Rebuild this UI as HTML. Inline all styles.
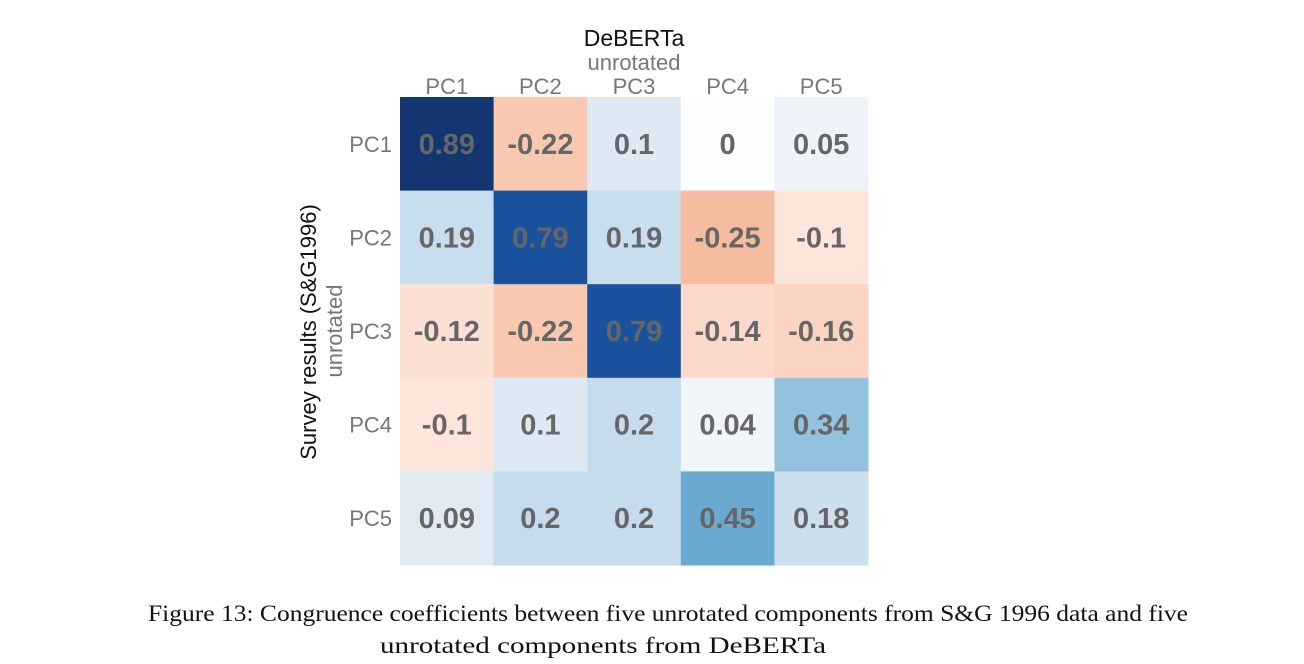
<!DOCTYPE html>
<html><head><meta charset="utf-8"><style>
body{margin:0;background:#fff;width:1304px;height:659px;overflow:hidden}
svg text{font-family:"Liberation Sans",sans-serif}
</style></head><body>
<svg width="1304" height="659">
<g id="cells"></g>
<text x="634" y="46" text-anchor="middle" font-size="23" fill="#111">DeBERTa</text>
<text x="634" y="70" text-anchor="middle" font-size="22" fill="#777">unrotated</text>
<text transform="translate(316,332) rotate(-90)" text-anchor="middle" font-size="22" fill="#111">Survey results (S&amp;G1996)</text>
<text transform="translate(342,331) rotate(-90)" text-anchor="middle" font-size="22" fill="#777">unrotated</text>
<text x="148" y="621" font-size="23" textLength="1040" lengthAdjust="spacingAndGlyphs" fill="#111" style="font-family:'Liberation Serif',serif">Figure 13: Congruence coefficients between five unrotated components from S&amp;G 1996 data and five</text>
<text x="380" y="653" font-size="23" textLength="446" lengthAdjust="spacingAndGlyphs" fill="#111" style="font-family:'Liberation Serif',serif">unrotated components from DeBERTa</text>
</svg>
<script>
const colLabels=["PC1","PC2","PC3","PC4","PC5"];
const rowLabels=["PC1","PC2","PC3","PC4","PC5"];
const values=[
[0.89,-0.22,0.1,0,0.05],
[0.19,0.79,0.19,-0.25,-0.1],
[-0.12,-0.22,0.79,-0.14,-0.16],
[-0.1,0.1,0.2,0.04,0.34],
[0.09,0.2,0.2,0.45,0.18]];
const NS="http://www.w3.org/2000/svg";
const x0=400,y0=97,cw=93.6,ch=93.6;
const g=document.getElementById('cells');
const svg=g.parentNode;
function lerp(a,b,t){return a.map((v,i)=>Math.round(v+(b[i]-v)*t));}
function color(v){
 const pos=[[0,[253,254,254]],[0.05,[237,243,248]],[0.1,[221,233,243]],[0.2,[198,220,236]],[0.34,[147,194,223]],[0.45,[106,170,208]],[0.79,[26,82,158]],[0.89,[19,54,114]],[1,[8,40,100]]];
 const neg=[[0,[253,254,254]],[0.1,[252,230,220]],[0.16,[250,211,194]],[0.22,[248,201,176]],[0.25,[246,188,159]],[1,[180,30,40]]];
 const s=v>=0?pos:neg,a=Math.abs(v);
 for(let i=1;i<s.length;i++){if(a<=s[i][0]){const t=(a-s[i-1][0])/(s[i][0]-s[i-1][0]);const c=lerp(s[i-1][1],s[i][1],t);return `rgb(${c})`;}}
 return `rgb(${s[s.length-1][1]})`;
}
values.forEach((row,r)=>row.forEach((v,c)=>{
 const rect=document.createElementNS(NS,'rect');
 
 
 rect.setAttribute('x',x0+c*cw);rect.setAttribute('y',y0+r*ch);
 rect.setAttribute('width',cw+0.5);rect.setAttribute('height',ch+0.5);
 rect.setAttribute('fill',color(v));g.appendChild(rect);
 const t=document.createElementNS(NS,'text');
 
 
 t.setAttribute('x',x0+c*cw+cw/2);t.setAttribute('y',y0+r*ch+ch/2+10);
 t.setAttribute('text-anchor','middle');t.setAttribute('font-size','29');
 t.setAttribute('font-weight','bold');t.setAttribute('fill','#666');
 t.textContent=String(v);g.appendChild(t);
}));
colLabels.forEach((l,c)=>{
 const t=document.createElementNS(NS,'text');
 
 
 t.setAttribute('x',x0+c*cw+cw/2);t.setAttribute('y',94);
 t.setAttribute('text-anchor','middle');t.setAttribute('font-size','22');t.setAttribute('fill','#777');
 t.textContent=l;svg.appendChild(t);
});
rowLabels.forEach((l,r)=>{
 const t=document.createElementNS(NS,'text');
 
 
 t.setAttribute('x',392);t.setAttribute('y',y0+r*ch+ch/2+8);
 t.setAttribute('text-anchor','end');t.setAttribute('font-size','22');t.setAttribute('fill','#777');
 t.textContent=l;svg.appendChild(t);
});
</script>
</body></html>
